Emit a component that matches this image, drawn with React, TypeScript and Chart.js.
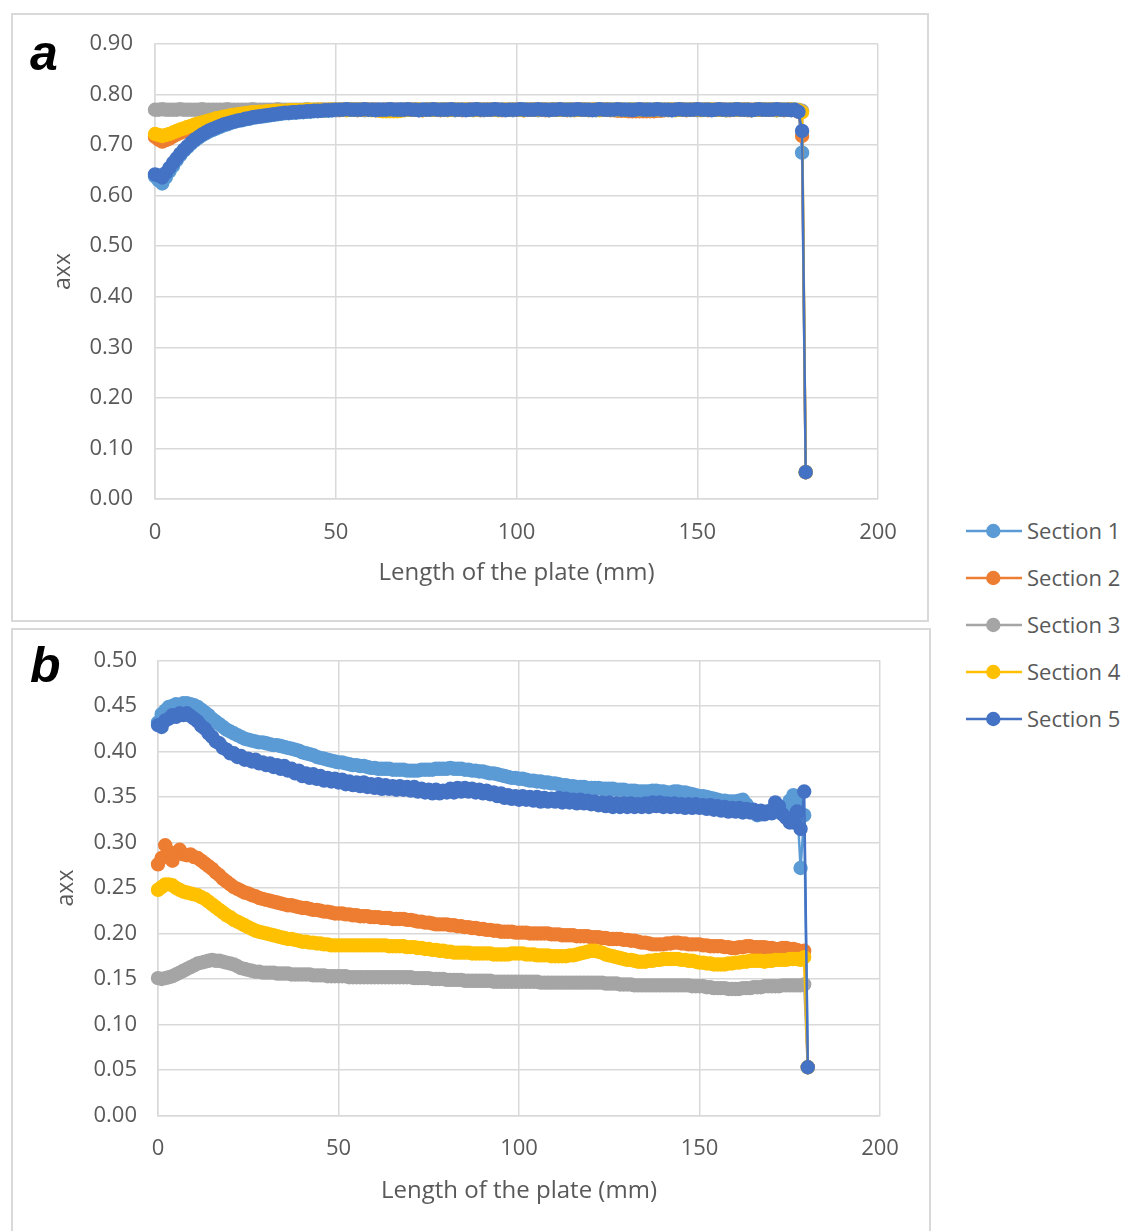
import React, { useEffect, useRef } from 'react';
import { Chart, registerables } from 'chart.js';

Chart.register(...registerables);

// ---------- DATA ----------
// Length along the plate (mm), one reading per millimetre
const X_MM = [
  0, 1, 2, 3, 4, 5, 6, 7, 8, 9,
  10, 11, 12, 13, 14, 15, 16, 17, 18, 19,
  20, 21, 22, 23, 24, 25, 26, 27, 28, 29,
  30, 31, 32, 33, 34, 35, 36, 37, 38, 39,
  40, 41, 42, 43, 44, 45, 46, 47, 48, 49,
  50, 51, 52, 53, 54, 55, 56, 57, 58, 59,
  60, 61, 62, 63, 64, 65, 66, 67, 68, 69,
  70, 71, 72, 73, 74, 75, 76, 77, 78, 79,
  80, 81, 82, 83, 84, 85, 86, 87, 88, 89,
  90, 91, 92, 93, 94, 95, 96, 97, 98, 99,
  100, 101, 102, 103, 104, 105, 106, 107, 108, 109,
  110, 111, 112, 113, 114, 115, 116, 117, 118, 119,
  120, 121, 122, 123, 124, 125, 126, 127, 128, 129,
  130, 131, 132, 133, 134, 135, 136, 137, 138, 139,
  140, 141, 142, 143, 144, 145, 146, 147, 148, 149,
  150, 151, 152, 153, 154, 155, 156, 157, 158, 159,
  160, 161, 162, 163, 164, 165, 166, 167, 168, 169,
  170, 171, 172, 173, 174, 175, 176, 177, 178, 179,
  180,
];

const SERIES_NAMES = ['Section 1', 'Section 2', 'Section 3', 'Section 4', 'Section 5'];
const SERIES_COLORS = ['#5B9BD5', '#ED7D31', '#A5A5A5', '#FFC000', '#4472C4'];

const X_AXIS_TITLE = 'Length of the plate (mm)';
const Y_AXIS_TITLE = 'axx';
const X_MIN = 0;
const X_MAX = 200;
const X_STEP = 50;
const Y_MAX_A = 0.9;
const Y_STEP_A = 0.1;
const Y_MAX_B = 0.5;
const Y_STEP_B = 0.05;

// ---- Chart a ----
const A_SECTION_1 = [
  0.638, 0.630, 0.624, 0.636, 0.648, 0.659, 0.670, 0.680, 0.689, 0.696,
  0.703, 0.709, 0.714, 0.719, 0.723, 0.727, 0.730, 0.733, 0.736, 0.739,
  0.741, 0.744, 0.746, 0.748, 0.749, 0.751, 0.752, 0.754, 0.755, 0.756,
  0.757, 0.758, 0.759, 0.760, 0.761, 0.762, 0.763, 0.763, 0.764, 0.764,
  0.765, 0.765, 0.766, 0.766, 0.767, 0.767, 0.768, 0.768, 0.768, 0.769,
  0.769, 0.770, 0.770, 0.770, 0.771, 0.770, 0.770, 0.770, 0.769, 0.770,
  0.770, 0.771, 0.770, 0.770, 0.770, 0.769, 0.770, 0.770, 0.771, 0.770,
  0.770, 0.770, 0.770, 0.769, 0.770, 0.771, 0.770, 0.770, 0.770, 0.770,
  0.771, 0.770, 0.770, 0.769, 0.770, 0.770, 0.770, 0.771, 0.770, 0.770,
  0.770, 0.769, 0.770, 0.770, 0.771, 0.770, 0.770, 0.770, 0.770, 0.769,
  0.770, 0.770, 0.771, 0.770, 0.770, 0.770, 0.769, 0.770, 0.770, 0.770,
  0.771, 0.770, 0.770, 0.770, 0.770, 0.769, 0.770, 0.771, 0.770, 0.770,
  0.770, 0.770, 0.769, 0.770, 0.770, 0.771, 0.770, 0.770, 0.770, 0.769,
  0.770, 0.770, 0.771, 0.770, 0.770, 0.770, 0.769, 0.770, 0.770, 0.771,
  0.770, 0.770, 0.770, 0.769, 0.770, 0.770, 0.771, 0.770, 0.770, 0.770,
  0.769, 0.770, 0.770, 0.771, 0.770, 0.770, 0.770, 0.770, 0.769, 0.770,
  0.770, 0.771, 0.770, 0.770, 0.770, 0.769, 0.770, 0.770, 0.771, 0.770,
  0.770, 0.770, 0.769, 0.770, 0.770, 0.770, 0.771, 0.770, 0.769, 0.685,
  0.053,
];
const A_SECTION_2 = [
  0.716, 0.711, 0.707, 0.710, 0.713, 0.717, 0.721, 0.724, 0.727, 0.730,
  0.732, 0.735, 0.737, 0.740, 0.742, 0.744, 0.746, 0.748, 0.750, 0.752,
  0.753, 0.755, 0.756, 0.757, 0.758, 0.759, 0.760, 0.761, 0.762, 0.763,
  0.764, 0.765, 0.765, 0.766, 0.766, 0.767, 0.767, 0.768, 0.768, 0.768,
  0.768, 0.769, 0.769, 0.769, 0.769, 0.770, 0.770, 0.770, 0.770, 0.770,
  0.770, 0.769, 0.770, 0.770, 0.770, 0.770, 0.769, 0.770, 0.770, 0.770,
  0.770, 0.770, 0.769, 0.770, 0.770, 0.770, 0.770, 0.770, 0.769, 0.770,
  0.770, 0.770, 0.770, 0.770, 0.769, 0.770, 0.770, 0.770, 0.770, 0.769,
  0.770, 0.770, 0.770, 0.770, 0.770, 0.769, 0.770, 0.770, 0.770, 0.770,
  0.769, 0.770, 0.770, 0.770, 0.770, 0.770, 0.769, 0.770, 0.770, 0.770,
  0.770, 0.770, 0.769, 0.770, 0.770, 0.770, 0.770, 0.770, 0.769, 0.770,
  0.770, 0.770, 0.770, 0.770, 0.769, 0.770, 0.770, 0.770, 0.770, 0.770,
  0.769, 0.770, 0.770, 0.770, 0.770, 0.770, 0.769, 0.769, 0.768, 0.768,
  0.768, 0.767, 0.767, 0.767, 0.767, 0.767, 0.767, 0.767, 0.767, 0.768,
  0.768, 0.769, 0.769, 0.770, 0.770, 0.770, 0.770, 0.769, 0.770, 0.770,
  0.770, 0.770, 0.770, 0.769, 0.770, 0.770, 0.770, 0.770, 0.770, 0.769,
  0.770, 0.770, 0.770, 0.770, 0.769, 0.770, 0.770, 0.770, 0.770, 0.770,
  0.770, 0.770, 0.770, 0.770, 0.769, 0.770, 0.770, 0.769, 0.766, 0.718,
  0.053,
];
const A_SECTION_3 = [
  0.770, 0.770, 0.771, 0.770, 0.770, 0.770, 0.770, 0.771, 0.770, 0.770,
  0.770, 0.770, 0.770, 0.771, 0.770, 0.770, 0.770, 0.770, 0.770, 0.770,
  0.771, 0.770, 0.770, 0.770, 0.770, 0.770, 0.770, 0.771, 0.770, 0.770,
  0.770, 0.770, 0.770, 0.770, 0.771, 0.770, 0.770, 0.770, 0.770, 0.770,
  0.770, 0.770, 0.771, 0.770, 0.770, 0.770, 0.770, 0.770, 0.770, 0.771,
  0.770, 0.770, 0.770, 0.770, 0.770, 0.770, 0.771, 0.770, 0.770, 0.770,
  0.770, 0.770, 0.770, 0.770, 0.770, 0.771, 0.770, 0.770, 0.770, 0.770,
  0.770, 0.770, 0.770, 0.771, 0.770, 0.770, 0.770, 0.770, 0.770, 0.770,
  0.771, 0.770, 0.770, 0.770, 0.770, 0.770, 0.770, 0.770, 0.770, 0.771,
  0.770, 0.770, 0.770, 0.770, 0.771, 0.770, 0.770, 0.770, 0.770, 0.770,
  0.770, 0.771, 0.770, 0.770, 0.770, 0.770, 0.770, 0.770, 0.771, 0.770,
  0.770, 0.770, 0.770, 0.770, 0.770, 0.771, 0.770, 0.770, 0.770, 0.770,
  0.770, 0.770, 0.771, 0.770, 0.770, 0.770, 0.770, 0.770, 0.770, 0.771,
  0.770, 0.770, 0.770, 0.770, 0.770, 0.770, 0.771, 0.770, 0.770, 0.770,
  0.770, 0.770, 0.770, 0.771, 0.770, 0.770, 0.770, 0.770, 0.770, 0.770,
  0.771, 0.770, 0.770, 0.770, 0.770, 0.770, 0.770, 0.771, 0.770, 0.770,
  0.770, 0.770, 0.770, 0.770, 0.771, 0.770, 0.770, 0.770, 0.770, 0.770,
  0.770, 0.771, 0.770, 0.770, 0.770, 0.770, 0.770, 0.770, 0.770, 0.768,
  0.053,
];
const A_SECTION_4 = [
  0.722, 0.720, 0.718, 0.720, 0.722, 0.725, 0.728, 0.731, 0.733, 0.736,
  0.738, 0.741, 0.743, 0.745, 0.747, 0.749, 0.751, 0.753, 0.754, 0.756,
  0.757, 0.759, 0.760, 0.761, 0.762, 0.763, 0.764, 0.765, 0.765, 0.766,
  0.766, 0.767, 0.767, 0.768, 0.768, 0.768, 0.768, 0.769, 0.769, 0.769,
  0.769, 0.769, 0.770, 0.770, 0.770, 0.770, 0.770, 0.769, 0.770, 0.770,
  0.770, 0.770, 0.770, 0.769, 0.770, 0.770, 0.770, 0.770, 0.770, 0.770,
  0.769, 0.769, 0.768, 0.767, 0.767, 0.767, 0.767, 0.767, 0.768, 0.769,
  0.770, 0.770, 0.770, 0.770, 0.769, 0.770, 0.770, 0.770, 0.770, 0.770,
  0.770, 0.769, 0.770, 0.770, 0.770, 0.770, 0.770, 0.770, 0.769, 0.770,
  0.770, 0.770, 0.770, 0.770, 0.770, 0.769, 0.770, 0.770, 0.770, 0.770,
  0.770, 0.770, 0.769, 0.770, 0.770, 0.770, 0.770, 0.770, 0.770, 0.769,
  0.770, 0.770, 0.770, 0.770, 0.770, 0.770, 0.769, 0.770, 0.770, 0.770,
  0.770, 0.770, 0.770, 0.769, 0.770, 0.770, 0.770, 0.770, 0.770, 0.770,
  0.769, 0.770, 0.770, 0.770, 0.770, 0.770, 0.770, 0.769, 0.770, 0.770,
  0.770, 0.770, 0.770, 0.770, 0.769, 0.770, 0.770, 0.770, 0.770, 0.770,
  0.770, 0.769, 0.770, 0.770, 0.770, 0.770, 0.770, 0.770, 0.769, 0.770,
  0.770, 0.770, 0.770, 0.770, 0.770, 0.769, 0.770, 0.770, 0.770, 0.770,
  0.770, 0.770, 0.769, 0.770, 0.770, 0.770, 0.770, 0.770, 0.769, 0.765,
  0.053,
];
const A_SECTION_5 = [
  0.642, 0.640, 0.636, 0.645, 0.655, 0.665, 0.674, 0.683, 0.691, 0.698,
  0.705, 0.711, 0.716, 0.721, 0.725, 0.729, 0.732, 0.735, 0.738, 0.741,
  0.743, 0.745, 0.747, 0.749, 0.750, 0.752, 0.753, 0.755, 0.756, 0.757,
  0.758, 0.759, 0.760, 0.761, 0.762, 0.763, 0.764, 0.764, 0.765, 0.765,
  0.766, 0.766, 0.767, 0.767, 0.768, 0.768, 0.768, 0.769, 0.769, 0.769,
  0.770, 0.770, 0.770, 0.771, 0.770, 0.770, 0.770, 0.770, 0.771, 0.770,
  0.770, 0.769, 0.770, 0.770, 0.770, 0.771, 0.770, 0.770, 0.770, 0.770,
  0.771, 0.770, 0.770, 0.769, 0.770, 0.770, 0.770, 0.771, 0.770, 0.770,
  0.770, 0.770, 0.771, 0.770, 0.770, 0.770, 0.769, 0.770, 0.770, 0.771,
  0.770, 0.770, 0.770, 0.770, 0.771, 0.770, 0.770, 0.769, 0.770, 0.770,
  0.770, 0.771, 0.770, 0.770, 0.770, 0.770, 0.771, 0.770, 0.770, 0.769,
  0.770, 0.770, 0.771, 0.770, 0.770, 0.770, 0.770, 0.771, 0.770, 0.770,
  0.770, 0.769, 0.770, 0.771, 0.770, 0.770, 0.770, 0.770, 0.771, 0.770,
  0.770, 0.770, 0.769, 0.770, 0.771, 0.770, 0.770, 0.770, 0.770, 0.771,
  0.770, 0.770, 0.770, 0.769, 0.770, 0.771, 0.770, 0.770, 0.770, 0.770,
  0.771, 0.770, 0.770, 0.770, 0.769, 0.770, 0.771, 0.770, 0.770, 0.770,
  0.770, 0.771, 0.770, 0.770, 0.770, 0.769, 0.770, 0.771, 0.770, 0.770,
  0.770, 0.770, 0.771, 0.770, 0.770, 0.770, 0.769, 0.770, 0.766, 0.728,
  0.053,
];

// ---- Chart b ----
const B_SECTION_1 = [
  0.432, 0.441, 0.445, 0.449, 0.450, 0.452, 0.451, 0.453, 0.453, 0.452,
  0.451, 0.449, 0.446, 0.443, 0.440, 0.436, 0.433, 0.430, 0.427, 0.424,
  0.422, 0.420, 0.418, 0.416, 0.414, 0.413, 0.412, 0.411, 0.410, 0.410,
  0.409, 0.408, 0.407, 0.407, 0.406, 0.405, 0.404, 0.403, 0.402, 0.401,
  0.399, 0.398, 0.397, 0.396, 0.394, 0.393, 0.392, 0.391, 0.390, 0.389,
  0.388, 0.388, 0.387, 0.386, 0.385, 0.385, 0.384, 0.384, 0.383, 0.382,
  0.382, 0.381, 0.381, 0.381, 0.381, 0.380, 0.380, 0.380, 0.380, 0.379,
  0.379, 0.379, 0.379, 0.380, 0.380, 0.380, 0.380, 0.381, 0.381, 0.381,
  0.381, 0.382, 0.381, 0.381, 0.381, 0.380, 0.380, 0.379, 0.379, 0.378,
  0.378, 0.377, 0.376, 0.376, 0.375, 0.374, 0.373, 0.372, 0.371, 0.371,
  0.370, 0.370, 0.369, 0.368, 0.368, 0.367, 0.367, 0.366, 0.366, 0.365,
  0.365, 0.364, 0.363, 0.363, 0.362, 0.362, 0.361, 0.361, 0.361, 0.360,
  0.360, 0.360, 0.360, 0.359, 0.359, 0.359, 0.359, 0.358, 0.358, 0.358,
  0.357, 0.357, 0.357, 0.356, 0.356, 0.356, 0.356, 0.357, 0.357, 0.356,
  0.356, 0.355, 0.355, 0.356, 0.356, 0.355, 0.355, 0.354, 0.353, 0.352,
  0.351, 0.351, 0.350, 0.349, 0.348, 0.347, 0.346, 0.346, 0.345, 0.345,
  0.345, 0.346, 0.347, 0.342, 0.336, 0.333, 0.330, 0.331, 0.332, 0.334,
  0.336, 0.335, 0.334, 0.337, 0.340, 0.346, 0.352, 0.345, 0.272, 0.330,
  0.053,
];
const B_SECTION_2 = [
  0.276, 0.283, 0.297, 0.290, 0.280, 0.288, 0.292, 0.287, 0.286, 0.287,
  0.284, 0.283, 0.280, 0.277, 0.274, 0.271, 0.267, 0.264, 0.260, 0.257,
  0.254, 0.251, 0.249, 0.247, 0.245, 0.244, 0.242, 0.241, 0.239, 0.238,
  0.237, 0.236, 0.235, 0.234, 0.233, 0.232, 0.231, 0.231, 0.230, 0.229,
  0.228, 0.228, 0.227, 0.226, 0.226, 0.225, 0.224, 0.224, 0.223, 0.222,
  0.222, 0.222, 0.221, 0.221, 0.220, 0.220, 0.219, 0.219, 0.219, 0.218,
  0.218, 0.218, 0.217, 0.217, 0.217, 0.216, 0.216, 0.216, 0.216, 0.215,
  0.215, 0.214, 0.213, 0.213, 0.212, 0.212, 0.211, 0.210, 0.210, 0.210,
  0.210, 0.209, 0.209, 0.208, 0.208, 0.207, 0.207, 0.206, 0.206, 0.205,
  0.205, 0.204, 0.204, 0.203, 0.203, 0.202, 0.202, 0.202, 0.202, 0.201,
  0.201, 0.201, 0.201, 0.200, 0.200, 0.200, 0.200, 0.200, 0.200, 0.199,
  0.199, 0.199, 0.198, 0.198, 0.198, 0.198, 0.197, 0.197, 0.197, 0.197,
  0.196, 0.196, 0.196, 0.195, 0.195, 0.194, 0.194, 0.194, 0.194, 0.193,
  0.193, 0.192, 0.192, 0.191, 0.190, 0.190, 0.189, 0.188, 0.188, 0.188,
  0.188, 0.189, 0.189, 0.190, 0.190, 0.189, 0.189, 0.188, 0.188, 0.188,
  0.188, 0.187, 0.187, 0.186, 0.186, 0.186, 0.186, 0.185, 0.185, 0.184,
  0.184, 0.185, 0.185, 0.186, 0.186, 0.185, 0.185, 0.185, 0.185, 0.184,
  0.184, 0.183, 0.183, 0.184, 0.184, 0.183, 0.183, 0.182, 0.178, 0.181,
  0.053,
];
const B_SECTION_3 = [
  0.151, 0.150, 0.151, 0.152, 0.153, 0.155, 0.157, 0.159, 0.161, 0.163,
  0.165, 0.167, 0.168, 0.169, 0.170, 0.171, 0.170, 0.170, 0.169, 0.168,
  0.167, 0.166, 0.164, 0.162, 0.161, 0.160, 0.159, 0.158, 0.158, 0.157,
  0.157, 0.157, 0.157, 0.156, 0.156, 0.156, 0.156, 0.155, 0.155, 0.155,
  0.155, 0.155, 0.155, 0.154, 0.154, 0.154, 0.154, 0.153, 0.153, 0.153,
  0.153, 0.153, 0.153, 0.152, 0.152, 0.152, 0.152, 0.152, 0.152, 0.152,
  0.152, 0.152, 0.152, 0.152, 0.152, 0.152, 0.152, 0.152, 0.152, 0.152,
  0.152, 0.151, 0.151, 0.151, 0.151, 0.151, 0.150, 0.150, 0.150, 0.150,
  0.149, 0.149, 0.149, 0.149, 0.149, 0.148, 0.148, 0.148, 0.148, 0.148,
  0.148, 0.148, 0.148, 0.147, 0.147, 0.147, 0.147, 0.147, 0.147, 0.147,
  0.147, 0.147, 0.147, 0.147, 0.147, 0.147, 0.146, 0.146, 0.146, 0.146,
  0.146, 0.146, 0.146, 0.146, 0.146, 0.146, 0.146, 0.146, 0.146, 0.146,
  0.146, 0.146, 0.146, 0.146, 0.145, 0.145, 0.145, 0.145, 0.144, 0.144,
  0.144, 0.144, 0.143, 0.143, 0.143, 0.143, 0.143, 0.143, 0.143, 0.143,
  0.143, 0.143, 0.143, 0.143, 0.143, 0.143, 0.143, 0.143, 0.142, 0.142,
  0.142, 0.142, 0.141, 0.141, 0.140, 0.140, 0.140, 0.140, 0.139, 0.139,
  0.139, 0.139, 0.140, 0.140, 0.140, 0.141, 0.141, 0.141, 0.142, 0.142,
  0.142, 0.142, 0.142, 0.143, 0.143, 0.143, 0.143, 0.143, 0.143, 0.144,
  0.053,
];
const B_SECTION_4 = [
  0.248, 0.251, 0.254, 0.254, 0.253, 0.250, 0.248, 0.246, 0.245, 0.244,
  0.243, 0.242, 0.240, 0.238, 0.235, 0.232, 0.229, 0.226, 0.223, 0.220,
  0.218, 0.215, 0.213, 0.211, 0.209, 0.207, 0.205, 0.203, 0.202, 0.201,
  0.200, 0.199, 0.198, 0.197, 0.196, 0.195, 0.194, 0.194, 0.193, 0.192,
  0.191, 0.191, 0.190, 0.190, 0.189, 0.189, 0.188, 0.188, 0.187, 0.187,
  0.187, 0.187, 0.187, 0.187, 0.187, 0.187, 0.187, 0.187, 0.187, 0.187,
  0.187, 0.187, 0.187, 0.187, 0.186, 0.186, 0.186, 0.186, 0.186, 0.185,
  0.185, 0.185, 0.184, 0.184, 0.183, 0.183, 0.182, 0.182, 0.181, 0.181,
  0.180, 0.180, 0.179, 0.179, 0.179, 0.179, 0.179, 0.178, 0.178, 0.178,
  0.178, 0.178, 0.178, 0.177, 0.177, 0.177, 0.177, 0.177, 0.178, 0.178,
  0.178, 0.178, 0.177, 0.177, 0.177, 0.176, 0.176, 0.176, 0.176, 0.175,
  0.175, 0.175, 0.175, 0.175, 0.176, 0.176, 0.177, 0.178, 0.179, 0.180,
  0.181, 0.181, 0.180, 0.179, 0.177, 0.176, 0.175, 0.174, 0.173, 0.172,
  0.171, 0.171, 0.170, 0.169, 0.169, 0.169, 0.170, 0.170, 0.171, 0.171,
  0.172, 0.172, 0.172, 0.172, 0.172, 0.171, 0.171, 0.170, 0.170, 0.169,
  0.168, 0.168, 0.167, 0.167, 0.166, 0.166, 0.166, 0.166, 0.167, 0.167,
  0.168, 0.168, 0.169, 0.169, 0.170, 0.170, 0.170, 0.170, 0.169, 0.170,
  0.170, 0.171, 0.171, 0.171, 0.171, 0.172, 0.172, 0.172, 0.171, 0.174,
  0.053,
];
const B_SECTION_5 = [
  0.429, 0.427, 0.434, 0.436, 0.440, 0.438, 0.442, 0.440, 0.442, 0.439,
  0.436, 0.433, 0.428, 0.425, 0.420, 0.416, 0.411, 0.409, 0.404, 0.402,
  0.398, 0.398, 0.394, 0.395, 0.391, 0.392, 0.389, 0.391, 0.387, 0.388,
  0.385, 0.387, 0.383, 0.385, 0.381, 0.384, 0.379, 0.381, 0.376, 0.379,
  0.373, 0.376, 0.371, 0.375, 0.370, 0.373, 0.368, 0.371, 0.367, 0.370,
  0.366, 0.369, 0.364, 0.367, 0.363, 0.366, 0.362, 0.366, 0.361, 0.364,
  0.360, 0.364, 0.359, 0.363, 0.359, 0.362, 0.358, 0.362, 0.358, 0.361,
  0.357, 0.361, 0.356, 0.359, 0.355, 0.358, 0.354, 0.358, 0.354, 0.357,
  0.355, 0.359, 0.355, 0.360, 0.356, 0.360, 0.356, 0.359, 0.355, 0.358,
  0.354, 0.357, 0.353, 0.355, 0.351, 0.354, 0.349, 0.352, 0.348, 0.351,
  0.347, 0.351, 0.347, 0.350, 0.346, 0.350, 0.345, 0.349, 0.345, 0.348,
  0.345, 0.349, 0.344, 0.348, 0.344, 0.347, 0.343, 0.347, 0.343, 0.346,
  0.342, 0.345, 0.341, 0.344, 0.340, 0.344, 0.339, 0.343, 0.339, 0.343,
  0.339, 0.343, 0.339, 0.342, 0.339, 0.343, 0.339, 0.344, 0.340, 0.344,
  0.339, 0.343, 0.339, 0.343, 0.339, 0.342, 0.338, 0.342, 0.338, 0.342,
  0.338, 0.341, 0.337, 0.341, 0.336, 0.340, 0.335, 0.339, 0.334, 0.338,
  0.334, 0.338, 0.333, 0.337, 0.333, 0.336, 0.331, 0.335, 0.331, 0.334,
  0.332, 0.344, 0.340, 0.331, 0.327, 0.322, 0.322, 0.334, 0.315, 0.356,
  0.053,
];

const SERIES_A = [A_SECTION_1, A_SECTION_2, A_SECTION_3, A_SECTION_4, A_SECTION_5];
const SERIES_B = [B_SECTION_1, B_SECTION_2, B_SECTION_3, B_SECTION_4, B_SECTION_5];

// ---------- LAYOUT / STYLE ----------
const FONT = '"Open Sans", "DejaVu Sans", sans-serif';
const TEXT_COLOR = '#595959';
const GRID_COLOR = '#d9d9d9';

type PanelLayout = {
  canvasTop: number;
  canvasW: number;
  canvasH: number;
  plotTop: number;
  plotRight: number;
  yAxisW: number;
  xAxisH: number;
  yTickPad: number;
  xTickPad: number;
  yTitlePad: number;
  xTitlePad: number;
};

const LAYOUT_A: PanelLayout = {
  canvasTop: 0, canvasW: 940, canvasH: 625,
  plotTop: 44, plotRight: 62, yAxisW: 155, xAxisH: 126,
  yTickPad: 22, xTickPad: 21, yTitlePad: 50, xTitlePad: 37.6,
};
const LAYOUT_B: PanelLayout = {
  canvasTop: 626, canvasW: 940, canvasH: 605,
  plotTop: 34.5, plotRight: 60, yAxisW: 158, xAxisH: 115.5,
  yTickPad: 21, xTickPad: 20, yTitlePad: 53, xTitlePad: 25.6,
};

function Panel({ series, yMax, yStep, layout }: { series: number[][]; yMax: number; yStep: number; layout: PanelLayout }) {
  const ref = useRef<HTMLCanvasElement | null>(null);
  useEffect(() => {
    if (!ref.current) return;
    const chart = new Chart(ref.current, {
      type: 'line',
      data: {
        datasets: series.map((vals, i) => ({
          label: SERIES_NAMES[i],
          data: X_MM.map((x, j) => ({ x, y: vals[j] })),
          borderColor: SERIES_COLORS[i],
          backgroundColor: SERIES_COLORS[i],
          pointBackgroundColor: SERIES_COLORS[i],
          pointBorderColor: SERIES_COLORS[i],
          pointRadius: 6.4,
          pointBorderWidth: 1.6,
          borderWidth: 2.5,
          tension: 0,
          order: SERIES_NAMES.length - 1 - i,
          clip: false as any,
        })),
      },
      options: {
        responsive: false,
        animation: false,
        devicePixelRatio: 1,
        events: [],
        layout: { padding: { left: 0, top: layout.plotTop, right: layout.plotRight, bottom: 0 } },
        plugins: { legend: { display: false }, tooltip: { enabled: false }, title: { display: false } },
        scales: {
          x: {
            type: 'linear',
            min: X_MIN,
            max: X_MAX,
            ticks: {
              stepSize: X_STEP,
              color: TEXT_COLOR,
              font: { family: FONT, size: 22 },
              padding: layout.xTickPad,
              autoSkip: false,
              maxRotation: 0,
            },
            grid: { color: GRID_COLOR, lineWidth: 1.5, drawTicks: false },
            border: { color: GRID_COLOR, width: 1.5 },
            title: {
              display: true,
              text: X_AXIS_TITLE,
              color: TEXT_COLOR,
              font: { family: FONT, size: 24 },
              padding: { top: 0, bottom: layout.xTitlePad },
            },
            afterFit: (s: any) => { s.height = layout.xAxisH; },
          },
          y: {
            type: 'linear',
            min: 0,
            max: yMax,
            ticks: {
              stepSize: yStep,
              color: TEXT_COLOR,
              font: { family: FONT, size: 22 },
              padding: layout.yTickPad,
              autoSkip: false,
              callback: (v: any) => Number(v).toFixed(2),
            },
            grid: { color: GRID_COLOR, lineWidth: 1.5, drawTicks: false },
            border: { color: GRID_COLOR, width: 1.5 },
            title: {
              display: true,
              text: Y_AXIS_TITLE,
              color: TEXT_COLOR,
              font: { family: FONT, size: 23 },
              padding: { top: layout.yTitlePad, bottom: 0 },
            },
            afterFit: (s: any) => { s.width = layout.yAxisW; },
          },
        },
      } as any,
    });
    return () => chart.destroy();
  }, []);
  return (
    <canvas
      ref={ref}
      width={layout.canvasW}
      height={layout.canvasH}
      style={{ position: 'absolute', left: 0, top: layout.canvasTop, width: layout.canvasW, height: layout.canvasH }}
    />
  );
}

function LegendEntry({ name, color, cy }: { name: string; color: string; cy: number }) {
  return (
    <>
      <svg width={60} height={20} style={{ position: 'absolute', left: 964, top: cy - 10 }}>
        <line x1={2} y1={10} x2={58} y2={10} stroke={color} strokeWidth={2.6} />
        <circle cx={29.3} cy={10} r={7.2} fill={color} />
      </svg>
      <div
        style={{
          position: 'absolute', left: 1027, top: cy - 16, height: 30, lineHeight: '30px',
          fontFamily: FONT, fontSize: 22, color: TEXT_COLOR, whiteSpace: 'nowrap',
        }}
      >
        {name}
      </div>
    </>
  );
}

const LEGEND_Y = [530.5, 577.5, 624.5, 671.5, 718.5];

export default function App() {
  return (
    <div style={{ position: 'absolute', left: 0, top: 0, width: 1123, height: 1231, overflow: 'hidden', background: '#fff' }}>
      <div style={{ position: 'absolute', left: 11, top: 13, width: 918, height: 609, border: '2px solid #d9d9d9', boxSizing: 'border-box' }} />
      <div style={{ position: 'absolute', left: 11, top: 628, width: 920, height: 700, border: '2px solid #d9d9d9', boxSizing: 'border-box' }} />
      <Panel series={SERIES_A} yMax={Y_MAX_A} yStep={Y_STEP_A} layout={LAYOUT_A} />
      <Panel series={SERIES_B} yMax={Y_MAX_B} yStep={Y_STEP_B} layout={LAYOUT_B} />
      <div style={{ position: 'absolute', left: 30, top: 27.7, fontFamily: '"Liberation Sans", Arial, sans-serif', fontWeight: 'bold', fontStyle: 'italic', fontSize: 50, lineHeight: '50px', color: '#000' }}>a</div>
      <div style={{ position: 'absolute', left: 30, top: 639.7, fontFamily: '"Liberation Sans", Arial, sans-serif', fontWeight: 'bold', fontStyle: 'italic', fontSize: 50, lineHeight: '50px', color: '#000' }}>b</div>
      {SERIES_NAMES.map((n, i) => (
        <LegendEntry key={n} name={n} color={SERIES_COLORS[i]} cy={LEGEND_Y[i]} />
      ))}
    </div>
  );
}
